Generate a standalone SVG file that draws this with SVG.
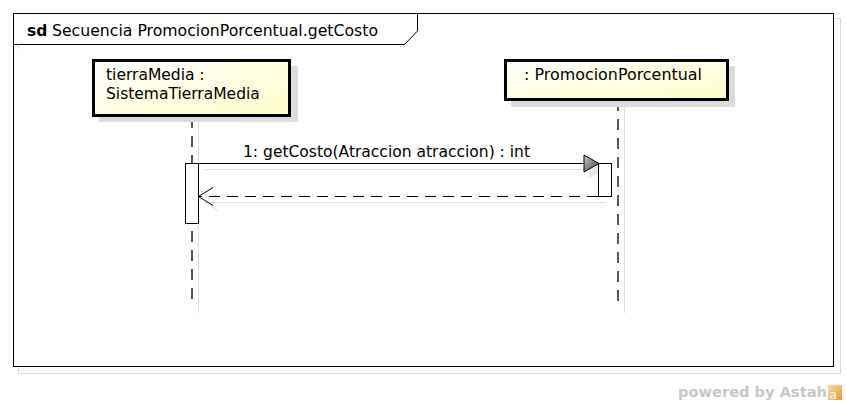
<svg xmlns="http://www.w3.org/2000/svg" width="846" height="406" viewBox="0 0 846 406">
<style>
text{font-family:"DejaVu Sans","Liberation Sans",sans-serif;font-size:15.5px;fill:#000}
.shadow{fill:#dcdcdc;stroke:none}
.box{fill:url(#lg);stroke:#000;stroke-width:3}
.life{stroke:#000;stroke-width:1.3;stroke-dasharray:11,8;fill:none}
.lifesh{stroke:#e0e0e0;stroke-width:1;fill:none}
.act{fill:#fff;stroke:#000;stroke-width:1}
</style>
<defs>
<linearGradient id="lg" x1="0" y1="0" x2="1" y2="1">
<stop offset="0" stop-color="#ffffff"/>
<stop offset="1" stop-color="#ffffc8"/>
</linearGradient>
<linearGradient id="ag" x1="0" y1="0" x2="1" y2="1">
<stop offset="0" stop-color="#c8c8c8"/>
<stop offset="1" stop-color="#404040"/>
</linearGradient>
<linearGradient id="og" x1="0" y1="0" x2="1" y2="1">
<stop offset="0" stop-color="#ffd9a0"/>
<stop offset="1" stop-color="#f09a30"/>
</linearGradient>
</defs>

<g id="frame">
<rect x="18.5" y="18.5" width="822" height="355" fill="none" stroke="#dcdcdc" stroke-width="1"/>
<rect x="13.5" y="13.5" width="820" height="353" fill="#fff" stroke="#000" stroke-width="1"/>
<path d="M13.5 44.5 H404.5 L417.5 31 V13.5" fill="none" stroke="#000" stroke-width="1"/>
<path d="M18.5 44.5 V49" fill="none" stroke="#dcdcdc"/>
<text x="27" y="36"><tspan font-weight="bold">sd</tspan> <tspan x="52" textLength="326" lengthAdjust="spacingAndGlyphs">Secuencia PromocionPorcentual.getCosto</tspan></text>
</g>

<g id="lifeline-tierraMedia">
<line class="lifesh" x1="198.5" y1="122" x2="198.5" y2="313"/>
<line class="life" x1="192" y1="117" x2="192" y2="302"/>
<rect class="shadow" x="99" y="66" width="199" height="56"/>
<rect class="box" x="93.5" y="60.5" width="196" height="55"/>
<text x="106" y="80">tierraMedia :</text>
<text x="106" y="99">SistemaTierraMedia</text>
</g>

<g id="lifeline-PromocionPorcentual">
<line class="lifesh" x1="624.5" y1="107" x2="624.5" y2="313"/>
<line class="life" x1="618" y1="100" x2="618" y2="308"/>
<rect class="shadow" x="511" y="66" width="224" height="41"/>
<rect class="box" x="505.5" y="60.5" width="222" height="39"/>
<text x="524" y="80" textLength="178" lengthAdjust="spacingAndGlyphs">: PromocionPorcentual</text>
</g>

<g id="connectors">
<line x1="205" y1="169.5" x2="590" y2="169.5" stroke="#e0e0e0" stroke-width="1"/>
<polygon points="589,160 605,169.5 589,179" fill="#e8e8e8"/>
<line x1="198" y1="163.5" x2="585" y2="163.5" stroke="#000" stroke-width="1"/>
<polygon points="584,155 599,163.5 584,172" fill="url(#ag)" stroke="#000" stroke-width="1"/>
<text x="243" y="157" textLength="287" lengthAdjust="spacingAndGlyphs">1: getCosto(Atraccion atraccion) : int</text>

<line x1="205" y1="202.5" x2="606" y2="202.5" stroke="#e0e0e0" stroke-width="1"/>
<polyline points="218,194 205,202.5 218,211" fill="none" stroke="#e0e0e0" stroke-width="1"/>
<line x1="598" y1="196.5" x2="199" y2="196.5" stroke="#000" stroke-width="1" stroke-dasharray="11,7"/>
<polyline points="213,187.5 198.5,196.5 213,205.5" fill="none" stroke="#000" stroke-width="1"/>
</g>

<g id="activation-1">
<rect class="act" x="185.5" y="163.5" width="13" height="60"/>
</g>
<g id="activation-2">
<rect class="act" x="598.5" y="163.5" width="13" height="33"/>
</g>

<g id="watermark">
<text x="678" y="397" textLength="149" lengthAdjust="spacingAndGlyphs" style="font-size:14.5px;font-weight:bold;fill:#c8c8c8">powered by Astah</text>
<rect x="828" y="385" width="14" height="15" fill="url(#og)"/>
<text x="829.5" y="399" style="font-size:12px;fill:#fff">a</text>
</g>
</svg>
